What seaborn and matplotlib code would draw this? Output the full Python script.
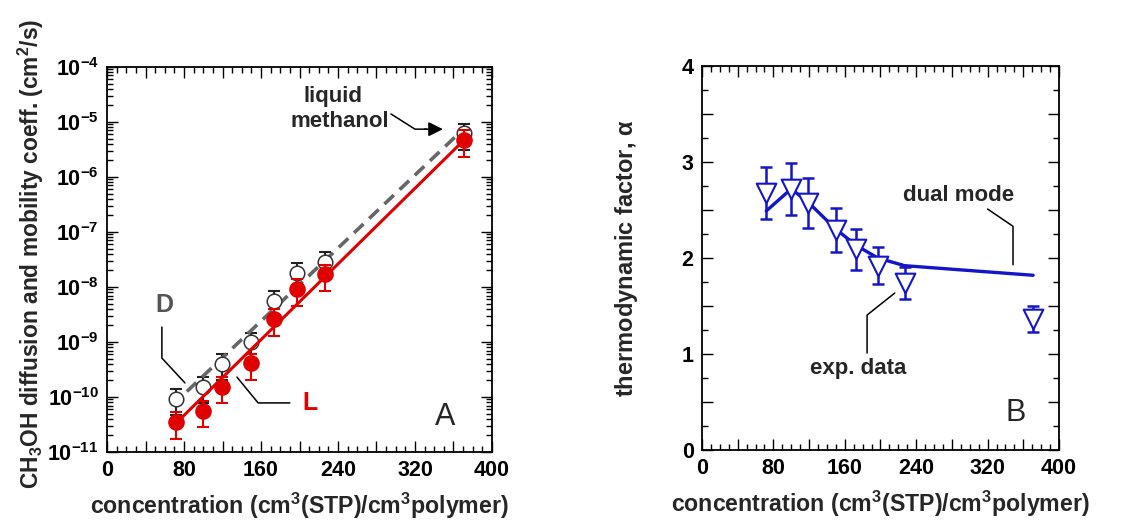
import numpy as np
import pandas as pd
import seaborn as sns
import matplotlib
matplotlib.use("Agg")
import matplotlib.pyplot as plt
from matplotlib.ticker import MultipleLocator, LogLocator, FuncFormatter, NullFormatter

sns.set_theme(style="ticks")
plt.rcParams["font.family"] = ["Liberation Sans", "DejaVu Sans"]
plt.rcParams["mathtext.fontset"] = "custom"
plt.rcParams["mathtext.rm"] = "Liberation Sans"
plt.rcParams["mathtext.bf"] = "Liberation Sans:bold"
plt.rcParams["mathtext.it"] = "Liberation Sans:italic"

# ---- data ---------------------------------------------------------------
conc = [72, 100, 119, 150, 173, 197, 227, 371]

# panel A: diffusion (D) and mobility (L) coefficients, cm^2/s
D_coef = [9.3e-11, 1.55e-10, 4.0e-10, 9.8e-10, 5.6e-9, 1.8e-8, 2.9e-8, 6.2e-6]
L_coef = [3.5e-11, 5.6e-11, 1.55e-10, 4.1e-10, 2.6e-9, 9.2e-9, 1.7e-8, 4.7e-6]
rel_err = 0.5

# exponential fits (straight on a log axis)
D_fit_x = [83, 362]
D_fit_y = [1.26e-10, 5.4e-6]
L_fit_x = [75, 371]
L_fit_y = [3.8e-11, 4.7e-6]

# panel B: thermodynamic factor
alpha = [2.68, 2.72, 2.57, 2.29, 2.09, 1.92, 1.74, 1.36]
alpha_err = [0.27, 0.27, 0.26, 0.23, 0.21, 0.19, 0.17, 0.135]
dual_x = [72, 100, 119, 150, 173, 197, 227, 371]
dual_y = [2.49, 2.72, 2.58, 2.30, 2.13, 2.00, 1.92, 1.82]

df_A = pd.DataFrame({"c": conc, "D": D_coef, "L": L_coef})
df_B = pd.DataFrame({"c": conc, "alpha": alpha, "err": alpha_err})
fit_D = pd.DataFrame({"c": D_fit_x, "v": D_fit_y})
fit_L = pd.DataFrame({"c": L_fit_x, "v": L_fit_y})
fit_B = pd.DataFrame({"c": dual_x, "v": dual_y})

RED = "#e00000"
GREY = "#666666"
BLUE = "#1414c8"
LABEL_FS = 16.7
TICK_FS = 15.5
NOTE_FS = 16

fig = plt.figure(figsize=(11.23, 5.2), dpi=100)
axA = fig.add_axes([0.0953, 0.1308, 0.3428, 0.7404])
axB = fig.add_axes([0.6251, 0.1346, 0.3179, 0.7385])

xlabel = r"concentration (cm$^{\mathbf{3}}$(STP)/cm$^{\mathbf{3}}$polymer)"


def style_x(ax):
    ax.set_xlim(0, 400)
    ax.xaxis.set_major_locator(MultipleLocator(40))
    ax.xaxis.set_minor_locator(MultipleLocator(10))
    ax.xaxis.set_major_formatter(
        FuncFormatter(lambda v, p: f"{int(round(v))}" if int(round(v)) % 80 == 0 else ""))
    ax.set_xlabel(xlabel, fontsize=LABEL_FS, fontweight="bold", labelpad=7)


def style_frame(ax):
    ax.tick_params(which="both", direction="in", top=True, right=True,
                   colors="black", labelsize=TICK_FS, width=1.0)
    ax.tick_params(which="major", length=8, pad=6)
    ax.tick_params(which="minor", length=4)
    for lab in ax.get_xticklabels() + ax.get_yticklabels():
        lab.set_fontweight("bold")
    for s in ax.spines.values():
        s.set_linewidth(1.3)
        s.set_color("black")


# ---- panel A --------------------------------------------------------------
axA.set_yscale("log")
axA.errorbar(df_A["c"], df_A["D"], yerr=rel_err * df_A["D"], fmt="none",
             ecolor="#222222", elinewidth=1.5, capsize=4, capthick=1.5, zorder=2)
sns.lineplot(data=fit_D, x="c", y="v", ax=axA, color=GREY, lw=2.6, zorder=3)
axA.lines[-1].set_dashes([3.6, 2.2])
axA.errorbar(df_A["c"], df_A["L"], yerr=rel_err * df_A["L"], fmt="none",
             ecolor=RED, elinewidth=1.5, capsize=4, capthick=1.5, zorder=4)
sns.lineplot(data=fit_L, x="c", y="v", ax=axA, color=RED, lw=2.2, zorder=5)
sns.scatterplot(data=df_A, x="c", y="D", ax=axA, marker="o", s=110,
                facecolor="white", edgecolor="#333333", linewidth=1.1, zorder=3.5)
sns.scatterplot(data=df_A, x="c", y="L", ax=axA, marker="o", s=120,
                color=RED, edgecolor=RED, linewidth=1.0, zorder=6)

axA.set_ylim(1e-11, 1e-4)
axA.yaxis.set_major_locator(LogLocator(base=10, numticks=20))
axA.yaxis.set_minor_locator(LogLocator(base=10, subs=np.arange(2, 10), numticks=20))
axA.yaxis.set_minor_formatter(NullFormatter())
axA.yaxis.set_major_formatter(
    FuncFormatter(lambda v, p: r"$\mathbf{10^{%d}}$" % int(round(np.log10(v)))))
style_x(axA)
axA.set_ylabel(r"CH$_{\mathbf{3}}$OH diffusion and mobility coeff. (cm$^{\mathbf{2}}$/s)",
               fontsize=16.4, fontweight="bold")
axA.yaxis.set_label_coords(-0.158, 0.515)
style_frame(axA)

# annotations
axA.text(235, 2.85e-5, "liquid", ha="center", va="center", fontsize=NOTE_FS, fontweight="bold")
axA.text(242, 1.0e-5, "methanol", ha="center", va="center", fontsize=NOTE_FS, fontweight="bold")
axA.plot([295, 320, 332], [1.4e-5, 7.4e-6, 7.4e-6], color="black", lw=1.1)
axA.annotate("", xy=(349, 7.4e-6), xytext=(330, 7.4e-6),
             arrowprops=dict(arrowstyle="-|>", color="black", lw=1.1,
                             mutation_scale=22, shrinkA=0, shrinkB=0))
axA.text(60, 4.7e-9, "D", ha="center", va="center", fontsize=18,
         fontweight="bold", color="#555555")
axA.plot([57, 57, 81], [1.87e-9, 5.1e-10, 1.8e-10], color="black", lw=1.1)
axA.text(211, 7.8e-11, "L", ha="center", va="center", fontsize=18,
         fontweight="bold", color=RED)
axA.plot([135, 157, 190], [2.3e-10, 7.8e-11, 7.8e-11], color="black", lw=1.1)
axA.text(351, 4.3e-11, "A", ha="center", va="center", fontsize=22)

# ---- panel B --------------------------------------------------------------
axB.errorbar(df_B["c"], df_B["alpha"], yerr=df_B["err"], fmt="none",
             ecolor=BLUE, elinewidth=1.8, capsize=4, capthick=1.8, zorder=2)
sns.lineplot(data=fit_B, x="c", y="v", ax=axB, color=BLUE, lw=2.4, zorder=3)
sns.scatterplot(data=df_B, x="c", y="alpha", ax=axB, marker="v", s=200,
                facecolor="white", edgecolor=BLUE, linewidth=1.5, zorder=4)
axB.set_ylim(0, 4)
axB.yaxis.set_major_locator(MultipleLocator(0.5))
axB.yaxis.set_minor_locator(MultipleLocator(0.25))
axB.yaxis.set_major_formatter(
    FuncFormatter(lambda v, p: f"{int(round(v))}" if abs(v - round(v)) < 1e-6 else ""))
style_x(axB)
axB.set_ylabel(r"thermodynamic factor, $\mathbf{\alpha}$", fontsize=17,
               fontweight="bold", labelpad=30)
style_frame(axB)

axB.text(287, 2.656, "dual mode", ha="center", va="center", fontsize=NOTE_FS, fontweight="bold")
axB.plot([320, 348.5, 348.5], [2.51, 2.33, 1.93], color="black", lw=1.1)
axB.text(175, 0.844, "exp. data", ha="center", va="center", fontsize=NOTE_FS, fontweight="bold")
axB.plot([185, 185, 216], [1.01, 1.406, 1.635], color="black", lw=1.1)
axB.text(351, 0.385, "B", ha="center", va="center", fontsize=22)

fig.savefig("out.png", dpi=100)
